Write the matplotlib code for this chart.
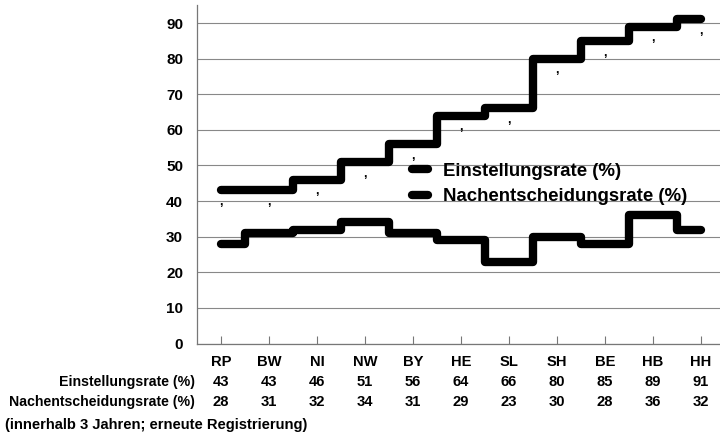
import numpy as np
import matplotlib
matplotlib.use('Agg')
import matplotlib.pyplot as plt
import matplotlib.transforms as mtransforms

# Bundeslaender, sortiert nach Einstellungsrate
laender = ['RP', 'BW', 'NI', 'NW', 'BY', 'HE', 'SL', 'SH', 'BE', 'HB', 'HH']
einstellung = [43, 43, 46, 51, 56, 64, 66, 80, 85, 89, 91]
nachentscheidung = [28, 31, 32, 34, 31, 29, 23, 30, 28, 36, 32]
row_labels = ['Einstellungsrate (%)', 'Nachentscheidungsrate (%)']
footnote = '(innerhalb 3 Jahren; erneute Registrierung)'
y_ticks = [0, 10, 20, 30, 40, 50, 60, 70, 80, 90]

plt.rcParams['font.family'] = ['Liberation Sans', 'DejaVu Sans']
plt.rcParams['font.weight'] = 'bold'

fig = plt.figure(figsize=(7.2, 4.34), dpi=100)
ax = fig.add_axes([0.2736, 0.2085, 0.7264, 0.7795])

x = np.arange(len(laender))
ax.plot(x, einstellung, drawstyle='steps-mid', color='black', lw=6,
        solid_capstyle='round', solid_joinstyle='round', label=row_labels[0])
ax.plot(x, nachentscheidung, drawstyle='steps-mid', color='black', lw=6,
        solid_capstyle='round', solid_joinstyle='round', label=row_labels[1])

# kleine Kommas unter der oberen Linie
for xi, v in zip(x, einstellung):
    ax.text(xi, v - 3.3, ',', ha='center', va='center', fontsize=9, color='black')

ax.set_xlim(-0.5, 10.4)
ax.set_ylim(0, 95)
ax.set_yticks(y_ticks)
ax.set_xticks(x)
ax.set_xticklabels([])
ax.tick_params(axis='x', direction='in', length=6, color='#777777')
ax.tick_params(axis='y', length=0, labelsize=11, pad=10)
ax.grid(axis='y', color='#888888', lw=0.8)
ax.set_axisbelow(True)
for s in ['top', 'right']:
    ax.spines[s].set_visible(False)
for s in ['left', 'bottom']:
    ax.spines[s].set_color('#777777')
    ax.spines[s].set_linewidth(0.9)

leg = ax.legend(loc='upper left', bbox_to_anchor=(0.397, 0.556), frameon=False,
                fontsize=13.4, handlelength=0.86, handletextpad=0.8,
                labelspacing=0.45, borderaxespad=0)

# Tabelle unter der Achse
trans = mtransforms.blended_transform_factory(ax.transData, fig.transFigure)
row_y = [0.166, 0.120, 0.074]
for xi, lab in zip(x, laender):
    ax.text(xi, row_y[0], lab, transform=trans, ha='center', va='center', fontsize=10.6)
for xi, a, b in zip(x, einstellung, nachentscheidung):
    ax.text(xi, row_y[1], str(a), transform=trans, ha='center', va='center', fontsize=10.6)
    ax.text(xi, row_y[2], str(b), transform=trans, ha='center', va='center', fontsize=10.6)
fig.text(0.271, row_y[1], row_labels[0], ha='right', va='center', fontsize=10.2)
fig.text(0.271, row_y[2], row_labels[1], ha='right', va='center', fontsize=10.2)
fig.text(0.007, 0.021, footnote, ha='left', va='center', fontsize=10.6)

fig.savefig('out.png', dpi=100)
